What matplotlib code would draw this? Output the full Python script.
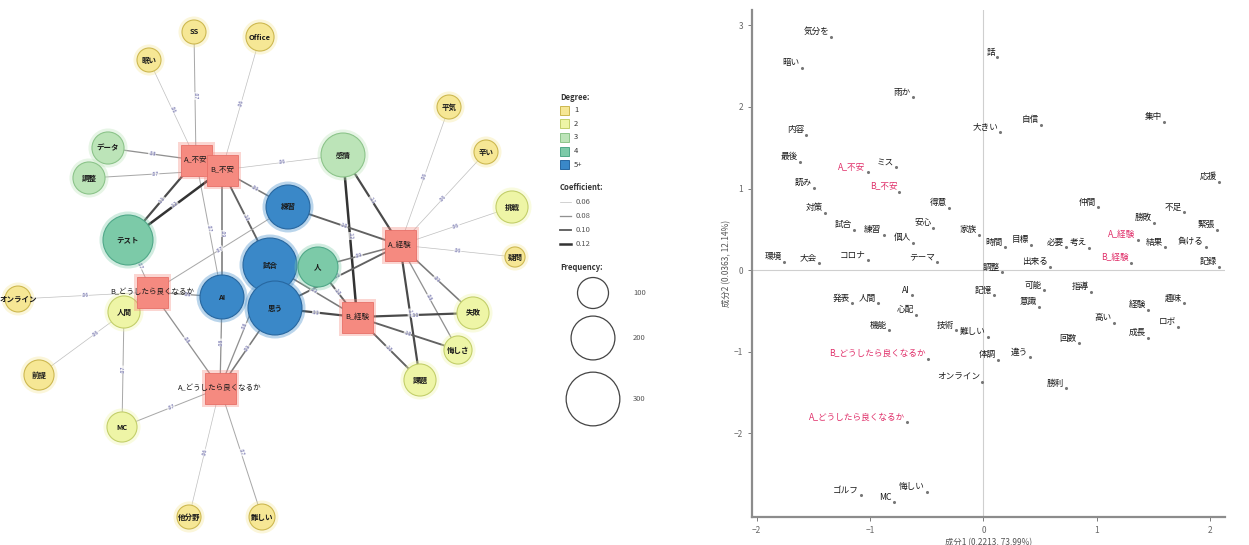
import math

import matplotlib

matplotlib.use("Agg")
import matplotlib.pyplot as plt
from matplotlib.patches import Circle, Rectangle

plt.rcParams["font.family"] = ["Noto Sans CJK JP", "DejaVu Sans"]

# ---------------- co-occurrence network (layout in pixel units) ----------------
circle_names = ["眠い", "SS", "Office", "データ", "調整", "テスト", "感情",
                "練習", "試合", "AI", "思う", "人", "平気", "辛い", "挑戦",
                "疑問", "失敗", "悔しさ", "課題", "オンライン", "人間", "前提",
                "MC", "他分野", "難しい"]
circle_x = [149, 194, 260, 108, 89, 128, 343, 288, 270, 222, 275, 318, 449,
            486, 512, 515, 473, 458, 420, 18, 124, 39, 122, 189, 262]
circle_y = [60, 32, 37, 148, 178, 240, 155, 207, 265, 297, 308, 267, 107,
            152, 207, 257, 313, 350, 380, 299, 312, 375, 427, 517, 517]
circle_degree = [1, 1, 1, 3, 3, 4, 3, 5, 5, 5, 5, 4, 1, 1, 2, 1, 2, 2, 2,
                 1, 2, 1, 2, 1, 1]
circle_freq = [60, 60, 82, 107, 107, 260, 201, 201, 303, 201, 303, 166, 60,
               60, 107, 42, 107, 82, 107, 70, 107, 94, 94, 60, 70]

square_names = ["A_不安", "B_不安", "A_経験", "B_経験",
                "B_どうしたら良くなるか", "A_どうしたら良くなるか"]
square_x = [196, 222, 400, 357, 152, 220]
square_y = [160, 170, 245, 317, 292, 388]

edges = [
    ("A_不安", "眠い", .06), ("A_不安", "SS", .07), ("A_不安", "データ", .08),
    ("A_不安", "テスト", .11), ("A_不安", "AI", .07),
    ("B_不安", "Office", .06), ("B_不安", "調整", .07), ("B_不安", "テスト", .12),
    ("B_不安", "練習", .09), ("B_不安", "試合", .10), ("B_不安", "AI", .09),
    ("B_不安", "感情", .06),
    ("感情", "A_経験", .11), ("感情", "B_経験", .12),
    ("練習", "A_経験", .10), ("練習", "B_どうしたら良くなるか", .07),
    ("試合", "B_経験", .09), ("試合", "A_どうしたら良くなるか", .08),
    ("思う", "B_経験", .11), ("思う", "A_どうしたら良くなるか", .09),
    ("思う", "A_経験", .10),
    ("AI", "B_どうしたら良くなるか", .08), ("AI", "A_どうしたら良くなるか", .08),
    ("人", "A_経験", .09), ("人", "B_経験", .10),
    ("A_経験", "平気", .06), ("A_経験", "辛い", .06), ("A_経験", "挑戦", .06),
    ("A_経験", "疑問", .06), ("A_経験", "失敗", .09), ("A_経験", "悔しさ", .08),
    ("A_経験", "課題", .11),
    ("B_経験", "失敗", .11), ("B_経験", "悔しさ", .10), ("B_経験", "課題", .10),
    ("B_どうしたら良くなるか", "オンライン", .06),
    ("B_どうしたら良くなるか", "人間", .07),
    ("B_どうしたら良くなるか", "前提", .06),
    ("B_どうしたら良くなるか", "A_どうしたら良くなるか", .08),
    ("テスト", "B_どうしたら良くなるか", .07),
    ("A_どうしたら良くなるか", "MC", .07),
    ("A_どうしたら良くなるか", "他分野", .06),
    ("A_どうしたら良くなるか", "難しい", .07),
    ("MC", "人間", .07),
]

degree_labels = ["1", "2", "3", "4", "5+"]
degree_colors = ["#F6E795", "#EEF5A6", "#BCE4B8", "#7CCAA8", "#3A88C8"]
degree_edges = ["#CDB850", "#C3CF6A", "#8CC48A", "#4FA888", "#2767A0"]
coef_levels = [0.06, 0.08, 0.10, 0.12]
freq_levels = [100, 200, 300]

# ---------------- correspondence analysis ----------------
ca_labels = ["気分を", "暗い", "雨か", "内容", "最後", "A_不安", "ミス", "B_不安",
             "読み", "対策", "試合", "練習", "個人", "安心", "得意", "家族", "環境",
             "大会", "コロナ", "テーマ", "話", "大きい", "自信", "集中", "応援",
             "仲間", "不足", "勝敗", "緊張", "A_経験", "B_経験", "結果", "負ける",
             "記録", "時間", "目標", "必要", "考え", "出来る", "調整", "発表",
             "人間", "AI", "心配", "機能", "技術", "難しい",
             "B_どうしたら良くなるか", "A_どうしたら良くなるか", "オンライン",
             "ゴルフ", "MC", "悔しい", "記憶", "可能", "意識", "指導", "経験",
             "趣味", "高い", "ロボ", "成長", "回数", "体調", "違う", "勝利"]
ca_x = [-1.34, -1.60, -0.62, -1.56, -1.62, -1.02, -0.77, -0.74, -1.49, -1.40,
        -1.14, -0.88, -0.62, -0.44, -0.30, -0.04, -1.76, -1.45, -1.02, -0.41,
        0.12, 0.15, 0.51, 1.59, 2.08, 1.01, 1.77, 1.50, 2.06, 1.36, 1.30, 1.60,
        1.96, 2.08, 0.19, 0.42, 0.73, 0.93, 0.59, 0.16, -1.16, -0.93, -0.63,
        -0.59, -0.83, -0.24, 0.04, -0.49, -0.67, -0.01, -1.08, -0.79, -0.50,
        0.09, 0.53, 0.49, 0.95, 1.45, 1.77, 1.15, 1.72, 1.45, 0.84, 0.13,
        0.41, 0.73]
ca_y = [2.86, 2.48, 2.12, 1.66, 1.33, 1.20, 1.26, 0.96, 1.01, 0.70, 0.49,
        0.43, 0.33, 0.52, 0.76, 0.43, 0.10, 0.09, 0.12, 0.10, 2.61, 1.69,
        1.78, 1.82, 1.08, 0.77, 0.71, 0.58, 0.49, 0.37, 0.09, 0.28, 0.28,
        0.04, 0.28, 0.31, 0.28, 0.27, 0.04, -0.03, -0.41, -0.41, -0.31,
        -0.55, -0.74, -0.74, -0.82, -1.09, -1.87, -1.37, -2.76, -2.85,
        -2.72, -0.31, -0.25, -0.45, -0.27, -0.49, -0.41, -0.65, -0.70,
        -0.83, -0.90, -1.10, -1.07, -1.45]
x_label = "成分1 (0.2213, 73.99%)"
y_label = "成分2 (0.0363, 12.14%)"

fig = plt.figure(figsize=(12.49, 5.45), dpi=100)

# network axes in pixel coordinates
net = fig.add_axes([0, 0, 660 / 1249, 1])
net.set_xlim(0, 660)
net.set_ylim(545, 0)
net.axis("off")

pos = {}
for n, x, y in zip(circle_names, circle_x, circle_y):
    pos[n] = (x, y)
for n, x, y in zip(square_names, square_x, square_y):
    pos[n] = (x, y)


def coef_style(c):
    g = 0.75 - (c - 0.06) / 0.06 * 0.55
    return (g, g, g), 0.5 + (c - 0.06) / 0.06 * 1.3


for a, b, c in edges:
    (x0, y0), (x1, y1) = pos[a], pos[b]
    col, lw = coef_style(c)
    net.plot([x0, x1], [y0, y1], color=col, lw=lw, zorder=1,
             solid_capstyle="round")
    mx, my = (x0 + x1) / 2, (y0 + y1) / 2
    ang = -math.degrees(math.atan2(y1 - y0, x1 - x0))
    if ang > 90:
        ang -= 180
    if ang < -90:
        ang += 180
    net.text(mx, my, f".{int(round(c * 100)):02d}", fontsize=3.8,
             color="#5c5ca0", ha="center", va="center", rotation=ang,
             zorder=2, bbox=dict(boxstyle="square,pad=0.05", fc="white",
                                 ec="none", alpha=0.7))

for n, x, y, d, f in zip(circle_names, circle_x, circle_y, circle_degree,
                         circle_freq):
    r = 1.55 * f ** 0.5
    idx = min(d, 5) - 1
    net.add_patch(Circle((x, y), r + 3.5, fc=degree_colors[idx], ec="none",
                         alpha=0.35, zorder=3))
    net.add_patch(Circle((x, y), r, fc=degree_colors[idx],
                         ec=degree_edges[idx], lw=0.8, zorder=3))
    net.text(x, y, n, fontsize=5.4, fontweight="bold", ha="center",
             va="center", color="#1a1a1a", zorder=5)

sq = 31
for n, x, y in zip(square_names, square_x, square_y):
    net.add_patch(Rectangle((x - sq / 2 - 3, y - sq / 2 - 3), sq + 6, sq + 6,
                            fc="#F58A80", ec="none", alpha=0.35, zorder=4))
    net.add_patch(Rectangle((x - sq / 2, y - sq / 2), sq, sq, fc="#F58A80",
                            ec="#E87068", lw=0.6, zorder=4))
    net.text(x, y, n, fontsize=5.4, ha="center", va="center",
             color="#1a1a1a", zorder=5)

# legend
lx, ly = 560, 97
net.text(lx, ly, "Degree:", fontsize=5.5, fontweight="bold", va="center",
         color="#333333")
for i, (lab, col, ec) in enumerate(zip(degree_labels, degree_colors,
                                       degree_edges)):
    yy = ly + 13 + i * 13.7
    net.add_patch(Rectangle((lx, yy - 4.5), 9, 9, fc=col, ec=ec, lw=0.7))
    net.text(lx + 14, yy, lab, fontsize=5.5, va="center", color="#333333")
ly2 = 188
net.text(lx, ly2, "Coefficient:", fontsize=5.5, fontweight="bold",
         va="center", color="#333333")
for i, c in enumerate(coef_levels):
    yy = ly2 + 14 + i * 14
    col, lw = coef_style(c)
    net.plot([lx, lx + 11], [yy, yy], color=col, lw=lw)
    net.text(lx + 16, yy, f"{c:.2f}", fontsize=5.5, va="center",
             color="#555555")
ly3 = 267
net.text(lx, ly3, "Frequency:", fontsize=5.5, fontweight="bold",
         va="center", color="#333333")
fy = [293, 338, 399]
for f, yy in zip(freq_levels, fy):
    r = 1.55 * f ** 0.5
    net.add_patch(Circle((593, yy), r, fc="none", ec="#444444", lw=0.9))
    net.text(633, yy, str(f), fontsize=5.5, va="center", color="#555555")

# scatter axes
ax = fig.add_axes([752 / 1249, 28 / 545, 473 / 1249, 507 / 545])
ax.set_xlim(-2.04, 2.13)
ax.set_ylim(-3.03, 3.19)
for s in ["top", "right"]:
    ax.spines[s].set_visible(False)
for s in ["left", "bottom"]:
    ax.spines[s].set_color("#8c8c8c")
    ax.spines[s].set_linewidth(1.6)
ax.axhline(0, color="#cfcfcf", lw=0.8, zorder=0)
ax.axvline(0, color="#cfcfcf", lw=0.8, zorder=0)
ax.set_xticks([-2, -1, 0, 1, 2])
ax.set_yticks([-2, -1, 0, 1, 2, 3])
ax.tick_params(labelsize=6, colors="#666666", length=3, width=0.6)
ax.set_xlabel(x_label, fontsize=6, color="#555555", labelpad=2)
ax.set_ylabel(y_label, fontsize=6, color="#555555", labelpad=2)

ax.scatter(ca_x, ca_y, s=1.5, color="#777777", zorder=2)
for lab, x, y in zip(ca_labels, ca_x, ca_y):
    red = lab.startswith(("A_", "B_"))
    ax.annotate(lab, (x, y), xytext=(-1.5, 0.5), textcoords="offset points",
                ha="right", va="bottom", fontsize=6.2,
                color="#E0306A" if red else "#1a1a1a", zorder=3)

fig.savefig("out.png", dpi=100, facecolor="white")
